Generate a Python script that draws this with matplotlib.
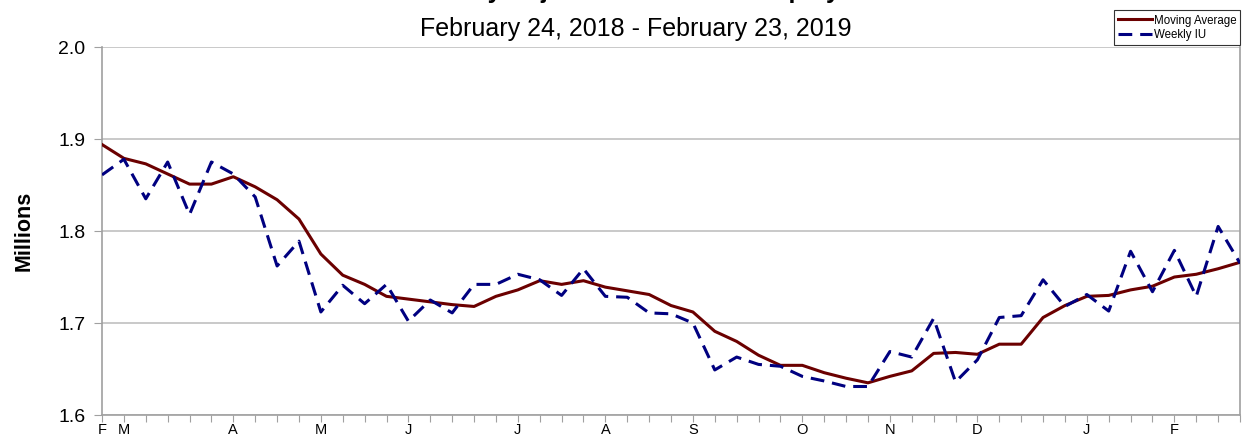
import matplotlib
matplotlib.use('Agg')
import matplotlib.pyplot as plt

plt.rcParams['font.family'] = ['Liberation Sans', 'DejaVu Sans']

# weekly values, Feb 24 2018 - Feb 23 2019 (millions)
weekly_iu = [1.861, 1.878, 1.835, 1.875, 1.818, 1.875, 1.862, 1.837, 1.762, 1.789,
             1.712, 1.741, 1.721, 1.742, 1.702, 1.725, 1.711, 1.742, 1.742, 1.753,
             1.747, 1.730, 1.759, 1.729, 1.728, 1.711, 1.710, 1.700, 1.649, 1.663,
             1.655, 1.653, 1.642, 1.637, 1.631, 1.631, 1.669, 1.663, 1.705, 1.636,
             1.660, 1.706, 1.708, 1.747, 1.718, 1.731, 1.713, 1.778, 1.734, 1.779,
             1.729, 1.805, 1.765]
moving_avg = [1.894, 1.879, 1.873, 1.862, 1.851, 1.851, 1.859, 1.848, 1.834, 1.813,
              1.775, 1.752, 1.742, 1.729, 1.726, 1.723, 1.720, 1.718, 1.729, 1.736,
              1.746, 1.742, 1.746, 1.739, 1.735, 1.731, 1.719, 1.712, 1.691, 1.680,
              1.665, 1.654, 1.654, 1.646, 1.640, 1.635, 1.642, 1.648, 1.667, 1.668,
              1.666, 1.677, 1.677, 1.706, 1.719, 1.729, 1.730, 1.736, 1.740, 1.750,
              1.753, 1.759, 1.766]
month_pos = [0, 1, 6, 10, 14, 19, 23, 27, 32, 36, 40, 45, 49]
month_lbl = ['F', 'M', 'A', 'M', 'J', 'J', 'A', 'S', 'O', 'N', 'D', 'J', 'F']

weeks = list(range(len(weekly_iu)))

fig = plt.figure(figsize=(12.44, 4.37), dpi=100)
ax = fig.add_axes([0.082, 0.0503, 0.9148, 0.8421])

ax.plot(weeks, moving_avg, color='#6b0000', lw=2.2, label='Moving Average', zorder=3)
ax.plot(weeks, weekly_iu, color='#000080', lw=2.2, ls=(0, (4.5, 2.6)), label='Weekly IU', zorder=4)

ax.set_xlim(0, len(weeks) - 1)
ax.set_ylim(1.6, 2.0)
ax.set_yticks([1.6, 1.7, 1.8, 1.9, 2.0])
ax.set_yticklabels(['1.6', '1.7', '1.8', '1.9', '2.0'], fontsize=14)
ax.yaxis.grid(True, color='#c0c0c0', lw=1.2)
ax.set_axisbelow(True)

labels = [''] * len(weeks)
for p, l in zip(month_pos, month_lbl):
    labels[p] = l
ax.set_xticks(weeks)
ax.set_xticklabels(labels, fontsize=10.5)
ax.tick_params(axis='x', length=5, color='#a0a0a0', pad=1)
ax.tick_params(axis='y', length=6, color='#a0a0a0', pad=6)

for s in ['left', 'bottom', 'right']:
    ax.spines[s].set_color('#a0a0a0')
    ax.spines[s].set_linewidth(1.2)
ax.spines['top'].set_visible(False)

ax.set_ylabel('Millions', fontsize=15.5, fontweight='bold', labelpad=17)

# first title line sits mostly above the top edge, as in the source image
fig.text(0.511, 1.005, 'Seasonally Adjusted Insured Unemployment', ha='center', va='baseline',
         fontsize=18, fontweight='bold')
fig.text(0.511, 0.918, 'February 24, 2018 - February 23, 2019', ha='center', va='baseline',
         fontsize=18)

leg = fig.legend(loc='upper right', bbox_to_anchor=(0.997, 0.976), fontsize=8.3,
                 frameon=True, fancybox=False, handlelength=2.9, handletextpad=0.15,
                 borderpad=0.35, labelspacing=0.25, borderaxespad=0)
leg.get_frame().set_edgecolor('black')
leg.get_frame().set_linewidth(0.8)

fig.savefig('out.png', dpi=100)
